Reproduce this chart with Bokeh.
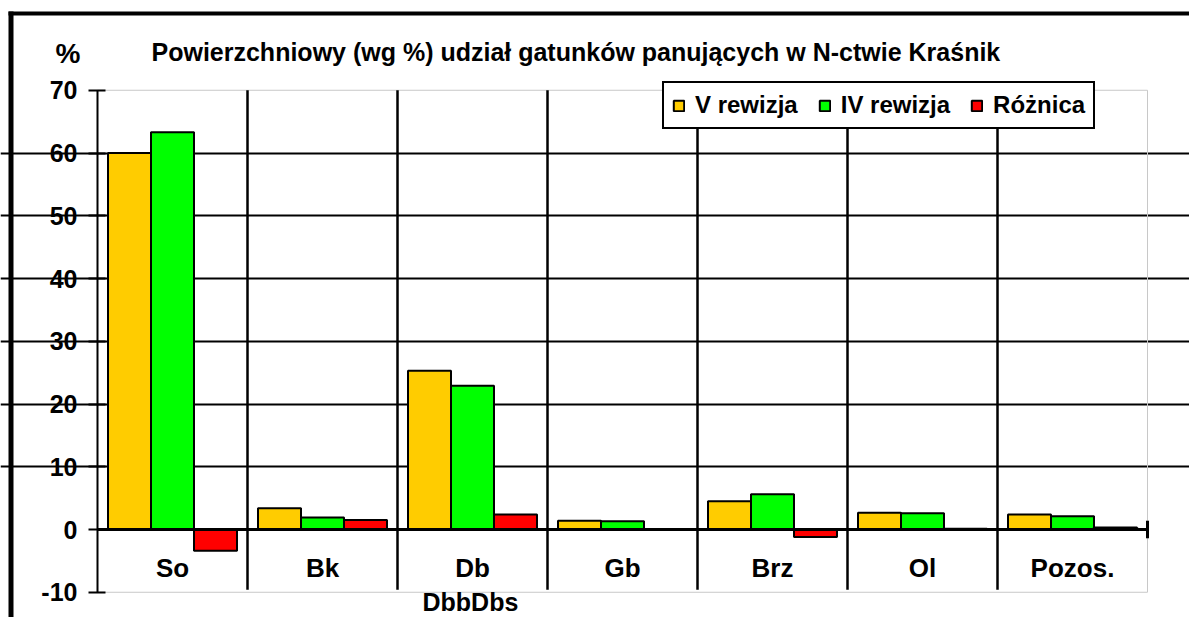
from bokeh.plotting import figure
from bokeh.models import (Range1d, FixedTicker, Legend, LegendItem, ColumnDataSource)
from bokeh.core.properties import value
from bokeh.embed import file_html
from bokeh.resources import INLINE

# ---- data ----
categories = ["So", "Bk", "Db", "Gb", "Brz", "Ol", "Pozos."]
v_rewizja = [60.0, 3.4, 25.3, 1.4, 4.5, 2.65, 2.4]
iv_rewizja = [63.3, 1.9, 22.9, 1.3, 5.6, 2.6, 2.1]
roznica = [-3.4, 1.5, 2.4, 0.0, -1.2, 0.1, 0.3]
series_names = ["V rewizja", "IV rewizja", "Różnica"]
y_ticks = [-10, 0, 10, 20, 30, 40, 50, 60, 70]
title_text = "Powierzchniowy (wg %) udział gatunków panujących  w N-ctwie Kraśnik"
extra_text = "DbbDbs"
unit_text = "%"

FONT = "Liberation Sans"
colors = ["#FFCC00", "#00FF00", "#FF0000"]

# ---- layout constants (pixels) ----
W, H = 1189, 617
X0_PX, CAT_PX = 97, 150          # left of plot area, width of one category
Y0_PX, PX_PER_UNIT = 529, 6.275  # pixel row of y=0, pixels per unit


def dx(px):
    return (px - X0_PX) / CAT_PX


def dy(py):
    return (Y0_PX - py) / PX_PER_UNIT


n = len(categories)
p = figure(width=W, height=H, output_backend="svg", toolbar_location=None,
           x_range=Range1d(dx(0), dx(W)), y_range=Range1d(dy(H), dy(0)),
           x_axis_type=None, min_border=0, min_border_left=0,
           min_border_right=0, min_border_top=0, min_border_bottom=0)
p.title.visible = False
p.background_fill_color = "white"
p.border_fill_color = "white"
p.outline_line_color = None
p.xgrid.visible = False
p.ygrid.ticker = FixedTicker(ticks=[10, 20, 30, 40, 50, 60])
p.ygrid.grid_line_color = "black"
p.ygrid.grid_line_width = 2
p.ygrid.bounds = (0, n)

ax = p.yaxis[0]
ax.fixed_location = 0
ax.bounds = (-10, 70)
ax.ticker = FixedTicker(ticks=y_ticks)
ax.major_label_overrides = {-10: "-10"}
ax.axis_line_color = "black"
ax.axis_line_width = 2
ax.major_tick_line_color = "black"
ax.major_tick_line_width = 2
ax.major_tick_out = 9
ax.major_tick_in = 8
ax.minor_tick_line_color = None
ax.major_label_text_font = FONT
ax.major_label_text_font_style = "bold"
ax.major_label_text_font_size = "25px"
ax.major_label_text_color = "black"
ax.major_label_standoff = 11

# plot-area border (light grey)
p.quad(left=[0], right=[n], bottom=[-10], top=[70], fill_color=None,
       line_color="#c8c8c8", line_width=1)

# category boundary lines
bounds = list(range(1, n))
p.segment(x0=bounds, y0=[-9.6] * len(bounds), x1=bounds, y1=[70] * len(bounds),
          line_color="black", line_width=2.5)

# bars
bw = 43 / CAT_PX
renderers = []
for k, (vals, col) in enumerate(zip([v_rewizja, iv_rewizja, roznica], colors)):
    xs = [i + 0.5 + (k - 1) * bw for i in range(n)]
    src = ColumnDataSource(dict(x=xs, top=vals))
    r = p.vbar(x="x", top="top", bottom=0, width=bw, source=src,
               fill_color=col, line_color="black", line_width=2)
    renderers.append(r)

# zero line with end tick
p.segment(x0=[0], y0=[0], x1=[n], y1=[0], line_color="black", line_width=3)
p.segment(x0=[n], y0=[-1.4], x1=[n], y1=[1.4], line_color="black", line_width=3)

# category labels
p.text(x=[i + 0.5 for i in range(n)], y=[dy(567.5)] * n, text=categories,
       text_align="center", text_baseline="middle",
       text_font=value(FONT), text_font_style="bold", text_font_size="26px",
       text_color="black")

# title, unit and stray label
p.text(x=[dx(151)], y=[dy(51.5)], text=[title_text], text_baseline="middle",
       text_font=value(FONT), text_font_style="bold", text_font_size="25px",
       text_color="black")
p.text(x=[dx(55)], y=[dy(53)], text=[unit_text], text_baseline="middle",
       text_font=value(FONT), text_font_style="bold", text_font_size="28px",
       text_color="black")
p.text(x=[dx(422)], y=[dy(601)], text=[extra_text], text_baseline="middle",
       text_font=value(FONT), text_font_style="bold", text_font_size="25px",
       text_color="black")

# outer frame (top and left thick black lines)
p.quad(left=[dx(8)], right=[dx(13)], bottom=[dy(H + 5)], top=[dy(11)],
       fill_color="black", line_color=None)
p.quad(left=[dx(8)], right=[dx(W + 5)], bottom=[dy(15)], top=[dy(11)],
       fill_color="black", line_color=None)

legend = Legend(items=[LegendItem(label=nm, renderers=[r])
                       for nm, r in zip(series_names, renderers)],
                orientation="horizontal", location=(662, H - 129))
legend.border_line_color = "black"
legend.border_line_width = 2
legend.border_line_alpha = 1
legend.background_fill_color = "white"
legend.background_fill_alpha = 1
legend.label_text_font = FONT
legend.label_text_font_style = "bold"
legend.label_text_font_size = "24px"
legend.label_text_color = "black"
legend.glyph_width = 13
legend.glyph_height = 13
legend.label_standoff = 10
legend.spacing = 20
legend.padding = 8
legend.margin = 0
p.add_layout(legend, "center")

open("out.html", "w").write(file_html(p, INLINE))
